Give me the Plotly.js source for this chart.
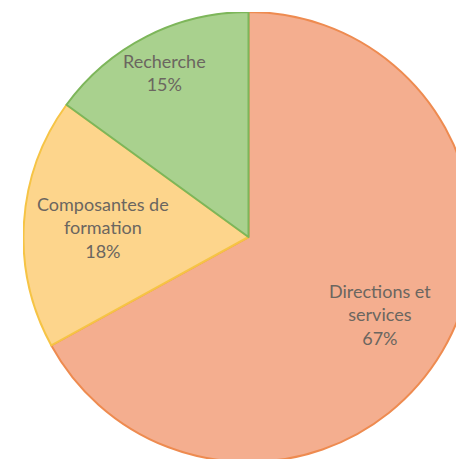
<!DOCTYPE html>
<html>
<head>
<meta charset="utf-8">
<script src="https://cdn.plot.ly/plotly-3.0.1.min.js"></script>
<style>
html,body{margin:0;padding:0;background:#fff;overflow:hidden;width:456px;height:459px;}
#chart{position:absolute;left:23px;top:12px;width:451px;height:451px;}
</style>
</head>
<body>
<div id="chart"></div>
<script>
const labels = ["Directions et services", "Composantes de formation", "Recherche"];
const displayLines = [["Directions et", "services"], ["Composantes de", "formation"], ["Recherche"]];
const values = [67, 18, 15];
const fillColors = ["#F4AE8F", "#FDD58C", "#A9D18E"];
const lineColors = ["#EE8B50", "#F6C445", "#7DB65A"];
const labelRadius = [0.675, 0.645, 0.82];

const total = values.reduce((a, b) => a + b, 0);

// labels placed at each slice's mid-angle (clockwise from 12 o'clock)
const annotations = [];
let cum = 0;
values.forEach((v, i) => {
  const mid = (cum + v / 2) / total * 2 * Math.PI;
  cum += v;
  const r = 0.5 * labelRadius[i];
  const lines = displayLines[i].concat([Math.round(v / total * 100) + "%"]);
  annotations.push({
    xref: "paper", yref: "paper",
    x: 0.5 + r * Math.sin(mid),
    y: 0.5 + r * Math.cos(mid),
    xanchor: "center", yanchor: "middle",
    align: "center",
    showarrow: false,
    text: lines.join("<br>"),
    font: {family: "Lato, 'Open Sans', sans-serif", size: 18, color: "#6B6660"}
  });
});

const trace = {
  type: "pie",
  labels: labels,
  values: values,
  textinfo: "none",
  hoverinfo: "label+percent",
  sort: false,
  direction: "clockwise",
  rotation: 0,
  marker: {colors: fillColors, line: {color: lineColors, width: 2}},
  showlegend: false
};

Plotly.newPlot("chart", [trace], {
  margin: {l: 0, r: 0, t: 0, b: 0},
  paper_bgcolor: "rgba(0,0,0,0)",
  plot_bgcolor: "rgba(0,0,0,0)",
  showlegend: false,
  annotations: annotations
}, {displayModeBar: false, staticPlot: true});
</script>
</body>
</html>
